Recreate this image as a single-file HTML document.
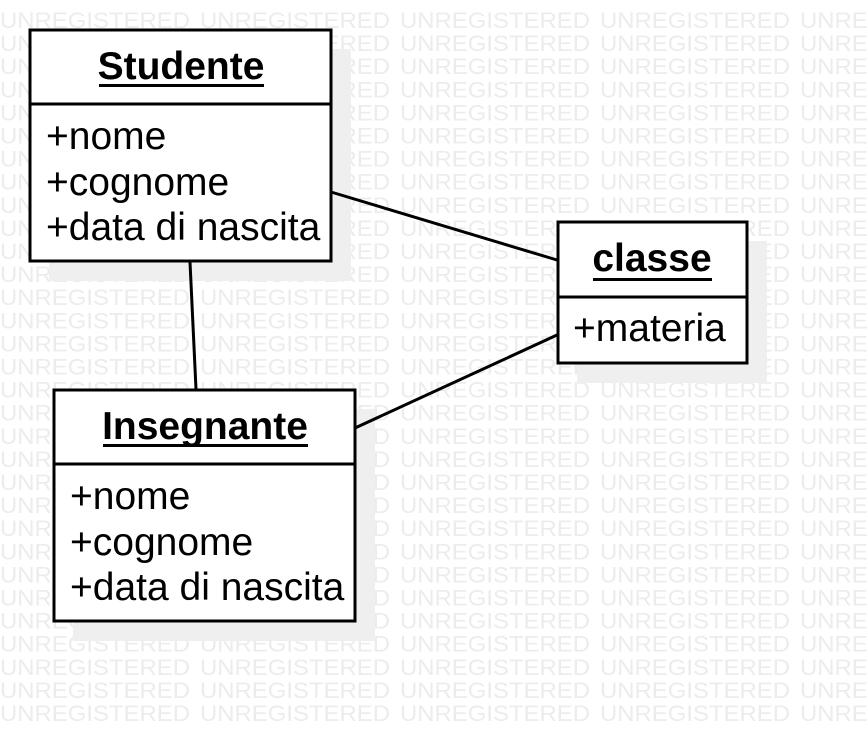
<!DOCTYPE html>
<html><head><style>html,body{margin:0;padding:0;background:#fff;}svg{display:block}</style></head>
<body>
<svg width="867" height="741" xmlns="http://www.w3.org/2000/svg" font-family="Liberation Sans, sans-serif">
<g id="wm" fill="#ececec" font-size="22"></g>
<rect x="49" y="49" width="302" height="232" fill="#efefef"/>
<rect x="577" y="241" width="190" height="142" fill="#efefef"/>
<rect x="73" y="409" width="302" height="232" fill="#efefef"/>
<g stroke="#000" stroke-width="3">
<line x1="331" y1="192" x2="557" y2="260"/>
<line x1="190" y1="262" x2="196" y2="389"/>
<line x1="355" y1="428" x2="557" y2="335"/>
</g>
<g stroke="#000" stroke-width="3" fill="#fff">
<rect x="30" y="30" width="301" height="231"/>
<line x1="30" y1="104" x2="331" y2="104"/>
<rect x="54" y="390" width="301" height="231"/>
<line x1="54" y1="464" x2="355" y2="464"/>
<rect x="558" y="222" width="189" height="141"/>
<line x1="558" y1="297" x2="747" y2="297"/>
</g>
<g fill="#000" font-size="39">
<text x="181" y="79" text-anchor="middle" font-weight="bold">Studente</text>
<text x="46" y="149">+nome</text>
<text x="46" y="195">+cognome</text>
<text x="46" y="240">+data di nascita</text>
<text x="205" y="439" text-anchor="middle" font-weight="bold">Insegnante</text>
<text x="70" y="509">+nome</text>
<text x="70" y="555">+cognome</text>
<text x="70" y="600">+data di nascita</text>
<text x="652" y="271" text-anchor="middle" font-weight="bold">classe</text>
<text x="573" y="341">+materia</text>
</g>
<rect x="99" y="84" width="165" height="3" fill="#000"/>
<rect x="103" y="444" width="205" height="3" fill="#000"/>
<rect x="593" y="278" width="119" height="3" fill="#000"/>
</svg>
<script>
var g=document.getElementById('wm'),s='';
for(var r=0;r<31;r++){var y=28+r*23.1;for(var c=0;c<5;c++){s+='<text x="'+(c*200)+'" y="'+y.toFixed(1)+'" textLength="190" lengthAdjust="spacingAndGlyphs">UNREGISTERED</text>';}}
g.innerHTML=s;
</script>
</body></html>
